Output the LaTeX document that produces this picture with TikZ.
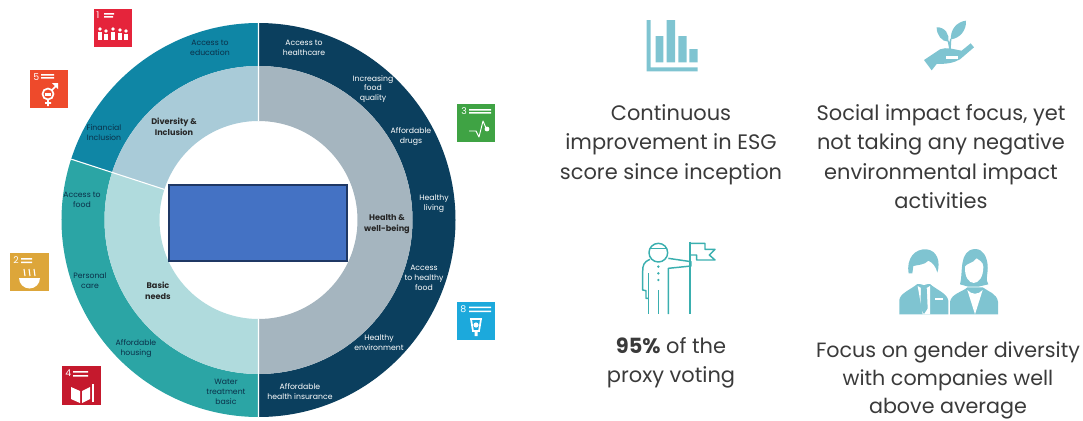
\documentclass[tikz,border=0pt]{standalone}
\usepackage{fontspec}
\setmainfont{Poppins}
\definecolor{cHealth}{HTML}{0B3F5E}
\definecolor{cDiv}{HTML}{0F86A5}
\definecolor{cBasic}{HTML}{2BA5A5}
\definecolor{cHealthIn}{HTML}{A5B5BF}
\definecolor{cDivIn}{HTML}{A9CBD8}
\definecolor{cBasicIn}{HTML}{B0DBDD}
\definecolor{cIcon}{HTML}{7FC4D1}
\definecolor{cMan}{HTML}{3AAFAF}
\definecolor{cDark}{HTML}{0A3049}
\definecolor{cBlue}{HTML}{4472C4}
\definecolor{cBlueD}{HTML}{1F3864}
\definecolor{cText}{HTML}{3A3A3A}
\definecolor{sdgA}{HTML}{E5243B}
\definecolor{sdgB}{HTML}{DDA63A}
\definecolor{sdgC}{HTML}{3FA344}
\definecolor{sdgD}{HTML}{C5192D}
\definecolor{sdgE}{HTML}{EE4A2B}
\definecolor{sdgF}{HTML}{1CA9DC}
\tikzset{
  ringdark/.style={font=\fontsize{5.8}{7.4}\selectfont,align=center,text=cDark,inner sep=0pt},
  ringlight/.style={font=\fontsize{5.8}{7.4}\selectfont,align=center,text=white,inner sep=0pt},
  ringbold/.style={font=\fontsize{6.1}{8}\selectfont\bfseries,align=center,text=black!85,inner sep=0pt},
  bigtext/.style={font=\fontsize{15.7}{22.1}\selectfont,align=center,text=cText,inner sep=0pt},
  bigtextb/.style={font=\fontsize{15.5}{21}\selectfont,align=center,text=cText,inner sep=0pt},
  sdgnum/.style={font=\fontsize{7}{7}\selectfont,text=white,inner sep=0pt},
  sdgbox/.style={minimum width=29pt,minimum height=29pt,inner sep=0pt,draw=none}
}
\begin{document}
\begin{tikzpicture}[x=0.75pt,y=-0.75pt]
\useasboundingbox (0,0) rectangle (1083,421);
% rings
\begin{scope}[shift={(258.5,220)},x=0.75pt,y=0.75pt]
  \fill[cHealth] (90:197) arc[start angle=90,end angle=-90,radius=197] -- (-90:154) arc[start angle=-90,end angle=90,radius=154] -- cycle;
  \fill[cDiv] (90:197) arc[start angle=90,end angle=162,radius=197] -- (162:154) arc[start angle=162,end angle=90,radius=154] -- cycle;
  \fill[cBasic] (162:197) arc[start angle=162,end angle=270,radius=197] -- (270:154) arc[start angle=270,end angle=162,radius=154] -- cycle;
  \fill[cHealthIn] (90:154) arc[start angle=90,end angle=-90,radius=154] -- (-90:99) arc[start angle=-90,end angle=90,radius=99] -- cycle;
  \fill[cDivIn] (90:154) arc[start angle=90,end angle=162,radius=154] -- (162:99) arc[start angle=162,end angle=90,radius=99] -- cycle;
  \fill[cBasicIn] (162:154) arc[start angle=162,end angle=270,radius=154] -- (270:99) arc[start angle=270,end angle=162,radius=99] -- cycle;
  \draw[white,line width=0.8pt] (90:197) -- (90:99) (-90:197) -- (-90:99) (162:197) -- (162:99);
\end{scope}
% centre box
\node[draw=cBlueD,fill=cBlue,line width=1.5pt,minimum width=134pt,minimum height=57pt,inner sep=0pt] (box) at (258,223) {};
% ring labels
\node[ringdark] (l1) at (210,48) {Access to\\education};
\node[ringdark] (l2) at (104,133) {Financial\\Inclusion};
\node[ringdark] (l3) at (82,200) {Access to\\food};
\node[ringdark] (l4) at (90,281) {Personal\\care};
\node[ringdark] (l5) at (136,349) {Affordable\\housing};
\node[ringdark] (l6) at (226,392) {Water\\treatment\\basic};
\node[ringlight] (r1) at (304,48) {Access to\\healthcare};
\node[ringlight] (r2) at (373,89) {Increasing\\food\\quality};
\node[ringlight] (r3) at (411,137) {Affordable\\drugs};
\node[ringlight] (r4) at (434,204) {Healthy\\living};
\node[ringlight] (r5) at (424,278) {Access\\to healthy\\food};
\node[ringlight] (r6) at (379,343) {Healthy\\environment};
\node[ringlight] (r7) at (300,392) {Affordable\\health insurance};
\node[ringbold] (b1) at (174,127) {Diversity \&\\Inclusion};
\node[ringbold] (b2) at (158,291) {Basic\\needs};
\node[ringbold] (b3) at (387,224) {Health \&\\well-being};
% big texts
\node[bigtext] (t1) at (671,144.5) {Continuous\\improvement in ESG\\score since inception};
\node[bigtext] (t2) at (941,156.5) {Social impact focus, yet\\not taking any negative\\environmental impact\\activities};
\node[bigtext] (t3) at (671,363) {\textbf{95\%} of the\\proxy voting};
\node[bigtextb] (t4) at (948,380.5) {Focus on gender diversity\\with companies well\\above average};
% SDG 1
\node[sdgbox,fill=sdgA] (s1) at (113,28) {};
\node[sdgnum,anchor=north west] (n1) at (96,11) {1};
\fill[white] (104,13) rectangle (114,14.5) (104,16) rectangle (113,17.5);
\foreach \x/\h in {100/0,106/2,113/0,120/1,126/2}{
  \fill[white] (\x,29+\h) circle[radius=1.9];
  \fill[white] (\x-2,32+\h) rectangle (\x+2,40);
}
% SDG 5
\node[sdgbox,fill=sdgE] (s5) at (49,89) {};
\node[sdgnum,anchor=north west] (n5) at (33,73) {5};
\fill[white] (41,74) rectangle (54,75.5) (41,77) rectangle (54,78.5);
\draw[white,line width=1.3pt] (48,94) circle[radius=5.5] (48,100) -- (48,106) (45,103) -- (51,103) (52,90) -- (57,85);
\fill[white] (58,83) -- (58,89) -- (52,83) -- cycle;
\fill[white] (45,92.5) rectangle (51,95.5);
% SDG 3
\node[sdgbox,fill=sdgC] (s3) at (476,123) {};
\node[sdgnum,anchor=north west] (n3) at (461,107) {3};
\fill[white] (469,109) rectangle (491,110.5) (469,112) rectangle (491,113.5);
\draw[white,line width=0.7pt,line join=round] (469,131) -- (476,131) -- (479,137) -- (483,121) -- (486,128) -- (488,128);
\fill[white] (487,129) circle[radius=2.4];
% SDG 8 (blue)
\node[sdgbox,fill=sdgF] (s8) at (476,321) {};
\node[sdgnum,anchor=north west] (n8) at (460,305) {8};
\fill[white] (469,306.5) rectangle (491,308) (469,310.5) rectangle (491,312);
\draw[white,line width=1.3pt] (471,319) -- (481,319) -- (479,331) -- (473,331) -- cycle;
\fill[white] (476,325) circle[radius=2.6] (474.5,331) rectangle (477.5,336);
% SDG 2
\node[sdgbox,fill=sdgB] (s2) at (29.5,272) {};
\node[sdgnum,anchor=north west] (n2) at (13,256) {2};
\fill[white] (21,258) rectangle (32,259.5) (21,261.5) rectangle (32,263);
\draw[white,line width=0.8pt] (24,269) -- (25,276) (29,269) -- (30,276) (34,269) -- (35,276);
\fill[white] (19,278) arc[start angle=180,end angle=0,radius=10.5] -- cycle;
% SDG 4
\node[sdgbox,fill=sdgD] (s4) at (81.5,385.5) {};
\node[sdgnum,anchor=north west] (n4) at (65,370) {4};
\fill[white] (73,371) rectangle (88,372.5) (73,375) rectangle (88,376.5);
\fill[white] (71,387) -- (80,391) -- (80,403) -- (71,399) -- cycle (82,391) -- (90,387) -- (90,399) -- (82,403) -- cycle;
\fill[white] (92,384) rectangle (94,402);
% chart icon and hand
\begin{scope}[shift={(620,0)},x=0.25pt,y=-0.25pt]
  \fill[cIcon] (80,60) rectangle (92,214) (80,202) rectangle (233,214);
  \fill[cIcon] (107,108) rectangle (130,187) (140,60) rectangle (165,187) (175,108) rectangle (200,187) (208,147) rectangle (233,187);
  \fill[cIcon] (912,180) -- (960,148) .. controls (980,140) and (1000,148) .. (1025,152) -- (1052,130) -- (1062,142) -- (1020,178) .. controls (1000,190) and (975,192) .. (950,192) -- (935,211) -- cycle;
  \fill[white] (978,168) rectangle (1015,177);
  \fill[cIcon] (950,82) .. controls (975,80) and (990,105) .. (985,125) .. controls (965,125) and (950,105) .. (950,82) -- cycle;
  \fill[cIcon] (1038,62) .. controls (1040,90) and (1020,115) .. (993,118) .. controls (990,90) and (1010,65) .. (1038,62) -- cycle;
  \draw[cIcon,line width=1.1pt] (985,122) -- (990,148) (992,116) -- (990,148);
\end{scope}
% standing person with flag
\begin{scope}[shift={(620,230)},x=0.25pt,y=-0.25pt]
  \draw[cMan,line width=1.1pt,line join=round] (115,68) circle[radius=28];
  \draw[cMan,line width=1.1pt,line join=round] (90,55) -- (140,55);
  \draw[cMan,line width=1.1pt,line join=round] (145,85) -- (213,95) -- (213,108) -- (145,115) -- (145,252);
  \draw[cMan,line width=1.1pt,line join=round] (90,88) .. controls (72,95) and (68,105) .. (68,125) -- (68,180) -- (78,182) -- (78,205) -- (85,205);
  \draw[cMan,line width=1.1pt] (85,130) -- (85,252) (115,180) -- (115,252) (210,35) -- (210,252);
  \draw[cMan,line width=1.1pt,line join=round] (210,40) -- (255,40) -- (255,58) -- (285,58) -- (268,75) -- (285,90) -- (230,90) -- (230,75) -- (210,75);
  \fill[cMan] (115,110) circle[radius=4] (115,130) circle[radius=4] (115,150) circle[radius=4];
\end{scope}
% two people
\begin{scope}[shift={(620,230)},x=0.25pt,y=-0.25pt]
  \fill[cIcon] (838,253) -- (838,210) .. controls (840,190) and (870,180) .. (892,162) -- (930,162) .. controls (950,180) and (982,190) .. (985,212) -- (985,253) -- cycle;
  \fill[white] (893,168) -- (908,253) -- (930,253) -- (930,168) .. controls (918,178) and (905,178) .. (893,168) -- cycle;
  \fill[cIcon] (903,172) -- (920,172) -- (923,235) -- (912,252) -- (901,235) -- cycle;
  \fill[white] (945,205) rectangle (968,210);
  \fill[white] (875,105) .. controls (872,185) and (950,185) .. (952,105) .. controls (950,75) and (880,75) .. (875,105) -- cycle;
  \fill[cIcon] (866,130) .. controls (858,85) and (885,55) .. (920,58) .. controls (952,62) and (962,95) .. (952,128) .. controls (948,110) and (938,98) .. (925,92) .. controls (915,105) and (890,105) .. (880,108) -- (877,130) -- cycle;
  \fill[cIcon] (990,253) -- (990,215) .. controls (995,190) and (1030,185) .. (1042,172) -- (1088,172) .. controls (1105,185) and (1130,190) .. (1134,215) -- (1134,253) -- cycle;
  \fill[white] (1042,180) -- (1065,253) -- (1088,180) .. controls (1075,195) and (1055,195) .. (1042,180) -- cycle;
  \fill[cIcon] (1020,163) .. controls (1030,130) and (1015,60) .. (1065,57) .. controls (1090,57) and (1100,80) .. (1103,105) .. controls (1105,130) and (1095,150) .. (1105,163) -- (1075,170) -- (1045,170) -- cycle;
  \fill[white] (1035,110) .. controls (1032,175) and (1090,175) .. (1090,110) .. controls (1090,95) and (1075,90) .. (1070,85) .. controls (1060,100) and (1040,100) .. (1035,110) -- cycle;
\end{scope}
\end{tikzpicture}
\end{document}
